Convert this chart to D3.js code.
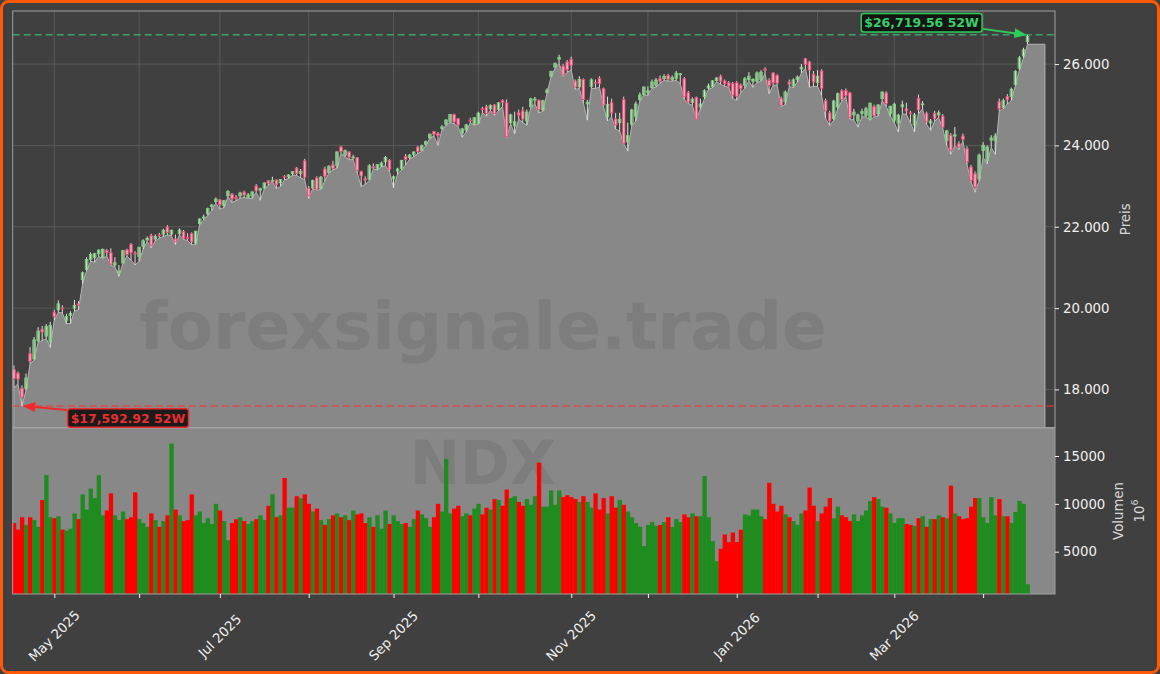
<!DOCTYPE html>
<html><head><meta charset="utf-8">
<script src="https://cdn.jsdelivr.net/npm/d3@7"></script>
<style>html,body{margin:0;padding:0;background:#404040;}svg{display:block;font-family:"DejaVu Sans",sans-serif;}</style>
</head><body><svg id="chart" width="1160" height="674"></svg>
<script>
const dates = ["2025-04-16","2025-04-17","2025-04-21","2025-04-22","2025-04-23","2025-04-24","2025-04-25","2025-04-28","2025-04-29","2025-04-30",
"2025-05-01","2025-05-02","2025-05-05","2025-05-06","2025-05-07","2025-05-08","2025-05-09","2025-05-12","2025-05-13","2025-05-14","2025-05-15","2025-05-16","2025-05-19","2025-05-20","2025-05-21","2025-05-22","2025-05-23","2025-05-27","2025-05-28","2025-05-29","2025-05-30",
"2025-06-02","2025-06-03","2025-06-04","2025-06-05","2025-06-06","2025-06-09","2025-06-10","2025-06-11","2025-06-12","2025-06-13","2025-06-16","2025-06-17","2025-06-18","2025-06-20","2025-06-23","2025-06-24","2025-06-25","2025-06-26","2025-06-27","2025-06-30",
"2025-07-01","2025-07-02","2025-07-03","2025-07-07","2025-07-08","2025-07-09","2025-07-10","2025-07-11","2025-07-14","2025-07-15","2025-07-16","2025-07-17","2025-07-18","2025-07-21","2025-07-22","2025-07-23","2025-07-24","2025-07-25","2025-07-28","2025-07-29","2025-07-30","2025-07-31",
"2025-08-01","2025-08-04","2025-08-05","2025-08-06","2025-08-07","2025-08-08","2025-08-11","2025-08-12","2025-08-13","2025-08-14","2025-08-15","2025-08-18","2025-08-19","2025-08-20","2025-08-21","2025-08-22","2025-08-25","2025-08-26","2025-08-27","2025-08-28","2025-08-29",
"2025-09-02","2025-09-03","2025-09-04","2025-09-05","2025-09-08","2025-09-09","2025-09-10","2025-09-11","2025-09-12","2025-09-15","2025-09-16","2025-09-17","2025-09-18","2025-09-19","2025-09-22","2025-09-23","2025-09-24","2025-09-25","2025-09-26","2025-09-29","2025-09-30",
"2025-10-01","2025-10-02","2025-10-03","2025-10-06","2025-10-07","2025-10-08","2025-10-09","2025-10-10","2025-10-13","2025-10-14","2025-10-15","2025-10-16","2025-10-17","2025-10-20","2025-10-21","2025-10-22","2025-10-23","2025-10-24","2025-10-27","2025-10-28","2025-10-29","2025-10-30","2025-10-31",
"2025-11-03","2025-11-04","2025-11-05","2025-11-06","2025-11-07","2025-11-10","2025-11-11","2025-11-12","2025-11-13","2025-11-14","2025-11-17","2025-11-18","2025-11-19","2025-11-20","2025-11-21","2025-11-24","2025-11-25","2025-11-26","2025-11-28",
"2025-12-01","2025-12-02","2025-12-03","2025-12-04","2025-12-05","2025-12-08","2025-12-09","2025-12-10","2025-12-11","2025-12-12","2025-12-15","2025-12-16","2025-12-17","2025-12-18","2025-12-19","2025-12-22","2025-12-23","2025-12-24","2025-12-26","2025-12-29","2025-12-30","2025-12-31",
"2026-01-02","2026-01-05","2026-01-06","2026-01-07","2026-01-08","2026-01-09","2026-01-12","2026-01-13","2026-01-14","2026-01-15","2026-01-16","2026-01-20","2026-01-21","2026-01-22","2026-01-23","2026-01-26","2026-01-27","2026-01-28","2026-01-29","2026-01-30",
"2026-02-02","2026-02-03","2026-02-04","2026-02-05","2026-02-06","2026-02-09","2026-02-10","2026-02-11","2026-02-12","2026-02-13","2026-02-17","2026-02-18","2026-02-19","2026-02-20","2026-02-23","2026-02-24","2026-02-25","2026-02-26","2026-02-27",
"2026-03-02","2026-03-03","2026-03-04","2026-03-05","2026-03-06","2026-03-09","2026-03-10","2026-03-11","2026-03-12","2026-03-13","2026-03-16","2026-03-17","2026-03-18","2026-03-19","2026-03-20","2026-03-23","2026-03-24","2026-03-25","2026-03-26","2026-03-27","2026-03-30","2026-03-31",
"2026-04-01","2026-04-02","2026-04-06","2026-04-07","2026-04-08","2026-04-09","2026-04-10","2026-04-13","2026-04-14","2026-04-15","2026-04-16","2026-04-17"];

const open = [18490,18400,18030,18030,18880,18750,19200,19480,19310,19160,
19900,19960,20000,19700,19820,20000,20100,20700,20950,21200,21240,21340,21250,21420,21360,21060,20860,21110,21430,21560,21350,
21270,21520,21680,21780,21700,21800,21820,21990,21820,21700,21830,21880,21740,21830,21600,22080,22220,22320,22500,22620,
22660,22520,22760,22800,22730,22760,22850,22720,22760,23000,22900,22950,23130,23130,23150,23080,23240,23230,23310,23440,23310,23620,
22950,22960,23200,22950,23420,23330,23520,23500,23960,23760,23840,23700,23700,23360,23180,23170,23480,23440,23490,23600,23640,
23180,23370,23430,23730,23700,23780,23960,23880,24030,24180,24340,24290,24420,24520,24590,24760,24660,24300,24380,24620,24540,
24540,24900,24950,24900,24990,24880,25110,25050,24560,24480,24800,24850,24600,24950,25120,25110,24870,25300,25700,25930,26120,25950,26050,
26120,25580,25440,25620,25020,25450,25550,25650,25400,24700,25050,24650,24560,25130,24090,24520,24720,25130,25250,
25300,25420,25480,25640,25640,25720,25620,25650,25740,25640,25300,25060,25180,24950,25200,25410,25450,25600,25700,25580,25540,25520,
25540,25480,25480,25620,25580,25580,25620,25880,25600,25780,25720,25150,25070,25560,25470,25620,25880,26130,26050,25750,
25550,25830,25100,24800,24660,24950,25340,25350,25290,24750,24600,24790,24740,24650,24950,24780,25150,25290,24780,
24620,24550,24950,24900,24800,24500,25160,25000,24790,24550,24790,24750,24720,24120,24250,24230,24040,24230,23920,23470,23300,23180,
23880,23630,24130,24120,25070,24930,25200,25200,25500,25900,26200,26550];

const high = [18590,18440,18100,18390,19040,19290,19530,19560,19610,19660,
19960,20190,20070,19860,19920,20200,20170,20900,21250,21370,21360,21440,21460,21450,21470,21250,21060,21420,21460,21600,21400,
21510,21690,21760,21830,21810,21850,21950,22040,21930,21810,21960,21920,21840,21860,21900,22210,22300,22470,22560,22720,
22680,22660,22900,22830,22780,22860,22890,22830,22870,23050,22960,23090,23140,23230,23160,23170,23270,23290,23370,23470,23420,23670,
23000,23160,23240,23250,23480,23510,23620,23850,23990,23900,23860,23770,23710,23380,23240,23540,23560,23540,23600,23740,23660,
23260,23450,23640,23790,23790,23850,23990,24020,24120,24290,24360,24330,24500,24640,24770,24780,24670,24430,24530,24680,24690,
24830,24950,25000,25010,25020,25060,25130,25130,24780,24830,24880,24950,24880,25170,25190,25130,25120,25400,25830,26040,26230,26000,26100,
26180,25620,25700,25650,25120,25650,25620,25700,25420,25200,25150,24800,24800,25200,24560,24900,25080,25300,25450,
25450,25620,25660,25720,25750,25760,25720,25830,25780,25680,25340,25180,25200,25150,25380,25520,25600,25680,25740,25620,25580,25560,
25580,25520,25680,25800,25650,25820,25850,25920,25650,25800,25750,25200,25350,25620,25650,25720,26000,26150,26080,25830,
25850,25870,25150,24850,25120,25300,25380,25400,25320,24900,24780,24900,24950,25060,25000,25020,25330,25330,24980,
25050,24780,25100,25050,24850,24800,25250,25090,24830,24650,24850,24860,24770,24380,24300,24450,24100,24290,23980,23520,23360,23800,
24080,24000,24250,24300,25150,25150,25260,25420,25850,26200,26400,26719.56];

const low = [18040,18140,17592.92,17980,18630,18730,19160,19200,19250,19030,
19700,19900,19880,19620,19620,19930,19960,20600,20920,21150,21130,21270,21220,21280,21050,21020,20780,21100,21280,21180,21060,
21150,21450,21640,21480,21650,21720,21760,21800,21780,21560,21800,21690,21660,21560,21560,22050,22170,22280,22400,22580,
22430,22470,22740,22600,22640,22700,22720,22700,22690,22850,22650,22930,23020,23110,22940,22990,23150,23190,23270,23260,23200,23160,
22690,22940,22900,22920,23130,23320,23400,23440,23800,23720,23650,23650,23330,22990,23040,23140,23420,23400,23470,23500,23360,
22960,23300,23400,23520,23660,23720,23800,23850,24000,24170,24240,24000,24380,24500,24570,24530,24460,24200,24330,24560,24500,
24520,24800,24720,24860,24740,24850,24960,24200,24530,24280,24650,24560,24500,24940,25020,24800,24840,25280,25680,25900,26020,25700,25800,
25850,25380,25400,25050,24620,25400,25400,25430,24950,24600,24700,24400,24350,24040,23860,24480,24600,25090,25240,
25230,25400,25440,25520,25600,25580,25580,25600,25520,25130,25030,24980,24640,24900,25150,25380,25420,25570,25500,25450,25430,25150,
25110,25300,25400,25580,25430,25550,25580,25760,25270,25480,25480,24960,25000,25450,25420,25560,25780,25900,25430,25450,
25450,25230,24660,24490,24620,24900,25090,25200,24650,24620,24450,24700,24700,24620,24700,24720,25100,24960,24720,
24560,24330,24780,24760,24560,24330,24780,24900,24520,24370,24600,24680,24420,24000,23780,24000,23900,24100,23540,23100,22850,23120,
23700,23550,23950,23780,24850,24900,25020,25100,25470,25850,26150,26487];

const close = [18262,18258,17809,18277,18694,19215,19433,19413,19547,19571,
19790,20103,19998,19791,19868,20064,20062,20868,21196,21319,21335,21427,21447,21371,21080,21113,20915,21414,21315,21363,21340,
21492,21655,21712,21547,21762,21797,21913,21860,21913,21631,21920,21720,21719,21626,21889,22191,22237,22447,22534,22679,
22541,22641,22867,22685,22700,22830,22781,22780,22856,22884,22934,23077,23066,23139,23030,23162,23220,23273,23356,23308,23356,23218,
22763,23135,22924,23218,23244,23488,23434,23840,23850,23870,23713,23713,23385,23250,23142,23498,23445,23525,23565,23703,23415,
23232,23415,23633,23653,23762,23839,23849,23990,24092,24276,24275,24239,24454,24626,24762,24580,24503,24404,24503,24611,24680,
24790,24890,24785,24980,24785,25046,25050,24221,24750,24580,24745,24650,24818,25142,25137,24880,25098,25358,25822,26012,26160,25735,25858,
25972,25435,25620,25130,25060,25612,25533,25517,24993,25008,24800,24503,24640,24054,24240,24870,25018,25237,25435,
25342,25556,25607,25581,25693,25628,25667,25776,25760,25197,25067,25132,24648,25019,25346,25461,25588,25656,25580,25520,25460,25240,
25210,25400,25640,25700,25620,25780,25800,25850,25470,25540,25530,24990,25310,25510,25610,25680,25920,25990,25850,25560,
25700,25400,24850,24600,25090,25270,25130,25230,24690,24820,24750,24830,24900,25030,24730,24990,25310,25030,24960,
25010,24740,25000,24850,24780,24750,24870,25020,24580,24600,24660,24800,24450,24360,23880,24260,23960,24150,23590,23140,22980,23760,
24000,23960,24180,24230,24900,25100,25120,25380,25820,26150,26350,26680];

const volume = [8000,7300,8600,7800,8600,8300,7600,10400,13000,8600,
8500,8700,7300,7200,7400,9000,8400,11000,9400,11600,10600,13000,8800,9300,11100,8800,8300,9200,8400,8600,11200,
8400,8000,7600,9000,8300,7600,8200,8800,16300,9400,8800,8200,8300,11000,8800,9200,8000,8500,7900,10000,
9300,8200,6200,8000,8400,8600,8200,7900,8200,8400,8800,8300,9800,11000,8600,8800,12700,9600,9600,10800,10600,11000,
10000,9200,9500,8300,7800,8400,8800,9000,8600,8800,8300,9300,8900,9000,8000,8600,7600,8800,7400,9300,7900,
8800,8200,7900,8000,7600,8400,9300,8900,8500,7600,8600,10000,9200,14700,9000,9500,9800,8700,9000,8800,9500,
10000,8900,9600,9400,10500,10400,9800,11500,10600,10800,10200,9800,10500,9900,10800,14300,9700,9700,11400,9900,11400,10700,10900,
10700,10500,10200,10800,10200,9600,11100,9400,10600,9000,10800,9600,10400,9900,9200,8600,8000,7600,5600,
7800,8100,7700,7800,8100,8600,7600,8400,8100,8900,8600,9000,8700,8700,12900,8600,6100,4000,5300,6800,6000,7000,
6000,7300,8900,8800,9400,9400,8700,8400,12200,10000,9200,9800,8900,8600,8200,7800,9000,9300,11700,9800,
8200,9000,9700,10600,8500,9700,8800,8600,8200,8900,8200,8800,9300,10300,10700,10500,9700,9600,9000,
8000,8500,8500,7900,7800,7700,8500,8700,7600,8400,8400,8800,8600,8500,11900,9000,8700,8400,8500,9700,10600,10600,
8600,8000,10700,8800,10500,8700,8700,8000,9150,10300,10000,1600];

const priceTicks = [18000, 20000, 22000, 24000, 26000];
const volumeTicks = [5000, 10000, 15000];
const tickDates = ["2025-05-01","2025-06-02","2025-07-01","2025-08-01","2025-09-02","2025-10-01","2025-11-03","2025-12-01","2026-01-02","2026-02-02","2026-03-02","2026-04-01"];
const tickLabels = ["May 2025","","Jul 2025","","Sep 2025","","Nov 2025","","Jan 2026","","Mar 2026",""];
const high52 = 26719.56, low52 = 17592.92;
const symbol = "NDX", watermark = "forexsignale.trade";

const svg = d3.select("#chart");
const W = 1160, H = 674;
const L = 12.7, R = 1055, PT = 11, PB = 427.5, VT = 428, VB = 594;
const n = dates.length;

svg.append("rect").attr("x",1.5).attr("y",1.5).attr("width",W-3).attr("height",H-3).attr("rx",7)
  .attr("fill","#404040").attr("stroke","#ff5a0a").attr("stroke-width",3);

const x = d3.scaleLinear().domain([-0.3, 257.8]).range([L, R]);
const yP = d3.scaleLinear().domain([17064.6, 27304.6]).range([PB, PT]);
const yV = d3.scaleLinear().domain([580, 17926]).range([VB, VT]);
const step = x(1) - x(0);

// price panel grid
const gGrid = svg.append("g");
tickDates.forEach(d => {
  const i = dates.indexOf(d);
  gGrid.append("line").attr("x1",x(i)).attr("x2",x(i)).attr("y1",PT).attr("y2",PB).attr("stroke","#5c5c5c").attr("stroke-width",0.9);
});
priceTicks.forEach(p => {
  gGrid.append("line").attr("x1",L).attr("x2",R).attr("y1",yP(p)).attr("y2",yP(p)).attr("stroke","#5c5c5c").attr("stroke-width",0.9);
});

// area along lows
const areaPts = low.map((v,i) => [x(i), yP(v)]);
areaPts.push([x(n-1+4.3), yP(low[n-1])]);
const areaPath = "M" + x(0) + "," + PB + "L" + areaPts.map(p=>p.join(",")).join("L") + "L" + x(n-1+4.3) + "," + PB + "Z";
svg.append("path").attr("d", areaPath).attr("fill","#888888").attr("stroke","#b4b4b4").attr("stroke-width",1);

// watermark
svg.append("text").attr("x",(L+R)/2 - 51).attr("y",349).attr("text-anchor","middle")
  .attr("font-size",66).attr("font-weight","bold").attr("fill","#7d7d7d").text(watermark);

// 52W lines
svg.append("line").attr("x1",L).attr("x2",R).attr("y1",yP(high52)).attr("y2",yP(high52))
  .attr("stroke","#3cb371").attr("stroke-opacity",0.85).attr("stroke-width",1.6).attr("stroke-dasharray","7,4");
svg.append("line").attr("x1",L).attr("x2",R).attr("y1",yP(low52)).attr("y2",yP(low52))
  .attr("stroke","#ff3030").attr("stroke-opacity",0.7).attr("stroke-width",1.6).attr("stroke-dasharray","7,4");

// candles
const gC = svg.append("g");
const bw = 2.6;
for (let i = 0; i < n; i++) {
  const up = close[i] >= open[i];
  gC.append("line").attr("x1",x(i)).attr("x2",x(i)).attr("y1",yP(high[i])).attr("y2",yP(low[i]))
    .attr("stroke", up ? "#d6ead6" : "#f0cdd6").attr("stroke-width",1);
  const t = yP(Math.max(open[i],close[i])), b = yP(Math.min(open[i],close[i]));
  gC.append("rect").attr("x",x(i)-bw/2).attr("y",t).attr("width",bw).attr("height",Math.max(b-t,0.8))
    .attr("fill", up ? "rgba(190,225,190,0.35)" : "#f5a6ba").attr("stroke", up ? "#7ed47e" : "#e64c76").attr("stroke-width",0.9);
}

// price panel spine
svg.append("rect").attr("x",L).attr("y",PT).attr("width",R-L).attr("height",PB-PT).attr("fill","none").attr("stroke","#a0a0a0").attr("stroke-width",1);

// volume panel
svg.append("rect").attr("x",L).attr("y",VT).attr("width",R-L).attr("height",VB-VT).attr("fill","#888888");
svg.append("text").attr("x",(L+R)/2 - 51).attr("y",484).attr("text-anchor","middle")
  .attr("font-size",60).attr("font-weight","bold").attr("fill","#7d7d7d").text(symbol);
const gV = svg.append("g");
for (let i = 0; i < n; i++) {
  const up = close[i] >= open[i];
  gV.append("rect").attr("x",x(i)-step/2).attr("y",yV(volume[i])).attr("width",step+0.3).attr("height",VB-yV(volume[i]))
    .attr("fill", up ? "#1e8c1e" : "#ff0000");
}
svg.append("rect").attr("x",L).attr("y",VT).attr("width",R-L).attr("height",VB-VT).attr("fill","none").attr("stroke","#a0a0a0").attr("stroke-width",1);

// axes
const axP = d3.axisRight(yP).tickValues(priceTicks).tickSize(4).tickPadding(4)
  .tickFormat(d => d3.format(",")(d).replace(/,/g,"."));
const gAP = svg.append("g").attr("transform",`translate(${R},0)`).call(axP);
const axV = d3.axisRight(yV).tickValues(volumeTicks).tickSize(4).tickPadding(4).tickFormat(d3.format("d"));
const gAV = svg.append("g").attr("transform",`translate(${R},0)`).call(axV);
const axX = d3.axisBottom(x).tickValues(tickDates.map(d=>dates.indexOf(d))).tickSize(4).tickFormat("");
const gAX = svg.append("g").attr("transform",`translate(0,${VB})`).call(axX);
[gAP,gAV,gAX].forEach(g => {
  g.select(".domain").remove();
  g.selectAll(".tick line").attr("stroke","#f0f0f0");
  g.selectAll(".tick text").attr("fill","#f0f0f0").attr("font-size",13.3).attr("font-family","DejaVu Sans");
});
tickDates.forEach((d,k) => {
  if (!tickLabels[k]) return;
  const i = dates.indexOf(d);
  svg.append("text").attr("transform",`translate(${x(i)},636) rotate(-45)`).attr("text-anchor","middle")
    .attr("dominant-baseline","central").attr("font-size",13.3).attr("fill","#f0f0f0").text(tickLabels[k]);
});

// axis labels
svg.append("text").attr("transform",`translate(1125,${(PT+PB)/2}) rotate(-90)`).attr("text-anchor","middle")
  .attr("dominant-baseline","central").attr("font-size",13.3).attr("fill","#d8d8d8").text("Preis");
svg.append("text").attr("transform",`translate(1118,${(VT+VB)/2}) rotate(-90)`).attr("text-anchor","middle")
  .attr("dominant-baseline","central").attr("font-size",13.3).attr("fill","#d8d8d8").text("Volumen");
const t106 = svg.append("text").attr("transform",`translate(1139,${(VT+VB)/2}) rotate(-90)`).attr("text-anchor","middle")
  .attr("dominant-baseline","central").attr("font-size",13.3).attr("fill","#d8d8d8");
t106.append("tspan").text("10");
t106.append("tspan").attr("dy",-5).attr("font-size",9.5).text("6");

// annotations
svg.append("defs").html(`
<marker id="ag" viewBox="0 0 10 10" refX="9" refY="5" markerWidth="7" markerHeight="7" orient="auto"><path d="M0,1L10,5L0,9Z" fill="#2ecc59"/></marker>
<marker id="ar" viewBox="0 0 10 10" refX="9" refY="5" markerWidth="7" markerHeight="7" orient="auto"><path d="M0,1L10,5L0,9Z" fill="#ee2a2a"/></marker>`);
function annot(tipX, tipY, cx, cy, label, col, txtCol, marker, startDx, startDy) {
  const g = svg.append("g");
  const tx = g.append("text").attr("x",cx).attr("y",cy).attr("text-anchor","middle").attr("dominant-baseline","central")
    .attr("font-size",12.5).attr("font-weight","bold").attr("fill",txtCol).text(label);
  const bb = tx.node().getBBox();
  g.insert("rect","text").attr("x",bb.x-3).attr("y",cy-9.2).attr("width",bb.width+6).attr("height",18.4).attr("rx",2.5)
    .attr("fill","#101010").attr("fill-opacity",0.9).attr("stroke",col).attr("stroke-width",1.5);
  const sx = startDx < 0 ? bb.x - 4 : bb.x + bb.width + 4;
  svg.append("line").attr("x1",sx).attr("y1",cy+startDy).attr("x2",tipX).attr("y2",tipY)
    .attr("stroke",col).attr("stroke-width",1.8).attr("marker-end",`url(#${marker})`);
}
const iLow = low.indexOf(low52), iHigh = high.indexOf(high52);
annot(x(iHigh)-2, yP(high52), x(iHigh)-106, yP(high52)-12, "$26,719.56 52W", "#2ecc59", "#36d06a", "ag", 1, 6);
annot(x(iLow)+2, yP(low52), x(iLow)+106, yP(low52)+12, "$17,592.92 52W", "#ee2a2a", "#e83030", "ar", -1, -8);
</script></body></html>
